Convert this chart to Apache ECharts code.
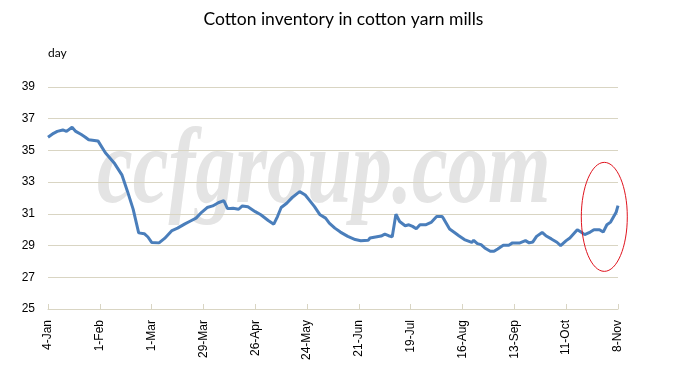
<!DOCTYPE html>
<html>
<head>
<meta charset="utf-8">
<script src="https://cdn.jsdelivr.net/npm/echarts@6/dist/echarts.min.js"></script>
<style>
html,body{margin:0;padding:0;background:#fff;}
#chart{width:687px;height:372px;}
</style>
</head>
<body>
<div id="chart"></div>
<script>
// Tick labels (every 28 days starting 4-Jan)
const tickLabels = ['4-Jan','1-Feb','1-Mar','29-Mar','26-Apr','24-May','21-Jun','19-Jul','16-Aug','13-Sep','11-Oct','8-Nov'];
// Days since 4-Jan for each observation
const dayOffset = [0,3,5,8,10,13,15,18,20,22,25,27,31,36,40,43,46,49,52,54,56,60,63,67,70,74,77,80,83,86,89,92,95,97,100,103,105,108,112,115,119,122,124,126,129,132,136,139,141,144,147,150,152,155,158,162,166,169,173,174,177,180,182,184,186,188,190,193,195,197,199,201,204,207,210,213,214,217,220,222,225,229,230,232,234,236,239,241,243,246,249,251,255,258,260,262,264,267,269,272,275,277,280,282,283,286,288,290,293,295,298,300,302,304,307,308];
// Cotton inventory (days)
const inventory = [35.83,36.08,36.2,36.29,36.2,36.46,36.2,36.0,35.85,35.67,35.63,35.6,34.85,34.17,33.44,32.4,31.3,29.8,29.75,29.54,29.2,29.17,29.45,29.95,30.1,30.37,30.55,30.73,31.1,31.4,31.5,31.7,31.83,31.33,31.35,31.29,31.5,31.45,31.14,30.94,30.58,30.35,30.83,31.4,31.67,32.04,32.4,32.19,31.9,31.46,30.94,30.73,30.42,30.1,29.85,29.58,29.38,29.31,29.33,29.48,29.54,29.6,29.72,29.62,29.56,30.98,30.52,30.25,30.31,30.21,30.06,30.31,30.31,30.46,30.83,30.83,30.65,30.04,29.79,29.62,29.38,29.2,29.33,29.12,29.06,28.85,28.64,28.64,28.79,29.02,29.02,29.17,29.17,29.31,29.17,29.23,29.58,29.83,29.62,29.42,29.21,29.0,29.31,29.48,29.38,30.0,29.85,29.69,29.85,30.0,30.0,29.85,30.31,30.48,31.1,31.52];
const yTicks = [25,27,29,31,33,35,37,39];

const seriesData = dayOffset.map((d, i) => [d, inventory[i]]);
const chart = echarts.init(document.getElementById('chart'), null, {renderer:'canvas'});
const gridColor = '#d9d5c3';
chart.setOption({
  animation:false,
  backgroundColor:'#fff',
  title:{
    text:'Cotton inventory in cotton yarn mills',
    left:'center', top:5,
    textStyle:{fontFamily:'Lato', fontSize:17.5, fontWeight:'normal', color:'#000'}
  },
  grid:{left:48, right:69, top:87, bottom:63},
  xAxis:{
    type:'value', min:0, max:(tickLabels.length-1)*28, interval:28,
    axisLine:{lineStyle:{color:gridColor}},
    axisTick:{show:true, inside:true, length:5, lineStyle:{color:gridColor}},
    splitLine:{show:false},
    axisLabel:{
      rotate:90, margin:11, fontFamily:'Liberation Sans', fontSize:12, color:'#000',
      formatter:v => tickLabels[Math.round(v/28)] || ''
    }
  },
  yAxis:{
    type:'value', min:yTicks[0], max:yTicks[yTicks.length-1], interval:2,
    name:'day', nameLocation:'end', nameGap:28,
    nameTextStyle:{fontFamily:'Lato', fontSize:12, color:'#000', align:'left'},
    axisLine:{show:false}, axisTick:{show:false},
    splitLine:{lineStyle:{color:gridColor, width:1}},
    axisLabel:{margin:13, fontFamily:'Liberation Sans', fontSize:12, color:'#000'}
  },
  series:[{
    type:'line', data:seriesData, showSymbol:false, smooth:false,
    lineStyle:{color:'#4a7ebb', width:3}, z:5
  }]
});
const c = chart.convertToPixel({gridIndex:0}, [300.6, 30.81]);
chart.setOption({
  graphic:[
    {type:'text', x:97, y:174, scaleX:0.745, z:-1, silent:true,
      style:{text:'ccfgroup.com', font:'italic bold 108px "Liberation Serif"', fill:'#e4e4e4', textVerticalAlign:'middle', textAlign:'left'}},
    {type:'ellipse', shape:{cx:c[0], cy:c[1], rx:23, ry:54.5}, z:10, silent:true,
      style:{fill:'none', stroke:'#e0141e', lineWidth:1}}
  ]
});
</script>
</body>
</html>
